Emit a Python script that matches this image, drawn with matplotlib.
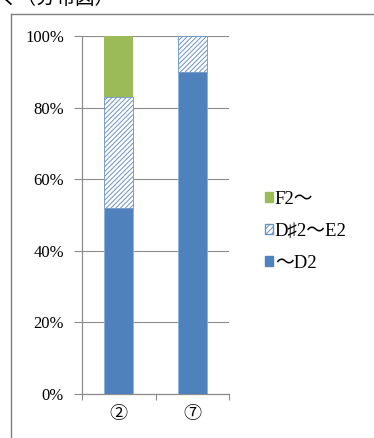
import matplotlib
matplotlib.use("Agg")
import matplotlib.pyplot as plt
from matplotlib.lines import Line2D
from matplotlib.patches import Patch

plt.rcParams['font.family'] = ['Liberation Serif', 'Noto Sans CJK JP', 'DejaVu Sans']
plt.rcParams['hatch.color'] = '#6A93C4'
plt.rcParams['hatch.linewidth'] = 0.7

# data
categories = ['②', '⑦']
series_names = ['～D2', 'D♯2～E2', 'F2～']
low_share = [52, 90]
mid_share = [31, 10]
high_share = [17, 0]
y_ticks = [0, 20, 40, 60, 80, 100]
y_labels = ['0%', '20%', '40%', '60%', '80%', '100%']

blue = '#4F81BD'
green = '#9BBB59'
grid_gray = '#8C8C8C'

fig = plt.figure(figsize=(3.74, 4.38), dpi=100)
ax = fig.add_axes([82 / 374, 1 - 394 / 438, 147 / 374, 358 / 438])

x = list(range(len(categories)))
w = 0.4
bottom_mid = low_share
bottom_high = [a + b for a, b in zip(low_share, mid_share)]

ax.bar(x, low_share, w, color=blue, edgecolor='#8CB0DA', linewidth=0.6, zorder=3)
ax.bar(x, mid_share, w, bottom=bottom_mid, color='white', hatch='///////',
       edgecolor='#6A93C4', linewidth=0.6, zorder=3)
ax.bar(x, high_share, w, bottom=bottom_high, color=green, linewidth=0, zorder=3)

ax.set_xlim(-0.5, len(categories) - 0.5)
ax.set_ylim(0, 100)
ax.set_yticks(y_ticks)
ax.set_yticklabels(y_labels, fontsize=12)
ax.yaxis.grid(True, color=grid_gray, linewidth=0.8, zorder=0)
ax.tick_params(axis='y', direction='out', length=6, color=grid_gray, pad=7)

# category boundaries as tick marks, category names centred between them
ax.set_xticks([i - 0.5 for i in range(len(categories) + 1)])
ax.set_xticklabels([])
ax.tick_params(axis='x', which='major', direction='out', length=4, color=grid_gray)
ax.set_xticks(x, minor=True)
ax.set_xticklabels(categories, minor=True, fontsize=13)
ax.tick_params(axis='x', which='minor', length=0, pad=9)

for side in ['top', 'right']:
    ax.spines[side].set_visible(False)
for side in ['left', 'bottom']:
    ax.spines[side].set_color(grid_gray)
    ax.spines[side].set_linewidth(0.9)

handles = [
    Patch(facecolor=green, edgecolor=green),
    Patch(facecolor='white', edgecolor='#6A93C4', hatch='//////'),
    Patch(facecolor=blue, edgecolor=blue),
]
fig.legend(handles, series_names[::-1], loc='upper left',
           bbox_to_anchor=(257 / 374, 1 - 183 / 438), frameon=False,
           fontsize=13.5, handlelength=0.45, handleheight=0.45,
           handletextpad=0.1, labelspacing=0.8, borderaxespad=0)

# chart frame
fig.add_artist(Line2D([11 / 374, 11 / 374], [0, 1 - 14 / 438],
                      transform=fig.transFigure, color='#7F7F7F', linewidth=1.0))
fig.add_artist(Line2D([11 / 374, 1], [1 - 14 / 438, 1 - 14 / 438],
                      transform=fig.transFigure, color='#7F7F7F', linewidth=1.0))

# heading above the chart, cut by the top edge
fig.text(-2 / 374, 1 - 9 / 438, 'く（分布図）', fontsize=14, va='bottom', ha='left',
         family=['Noto Sans CJK JP'])

fig.savefig('out.png', dpi=100)
